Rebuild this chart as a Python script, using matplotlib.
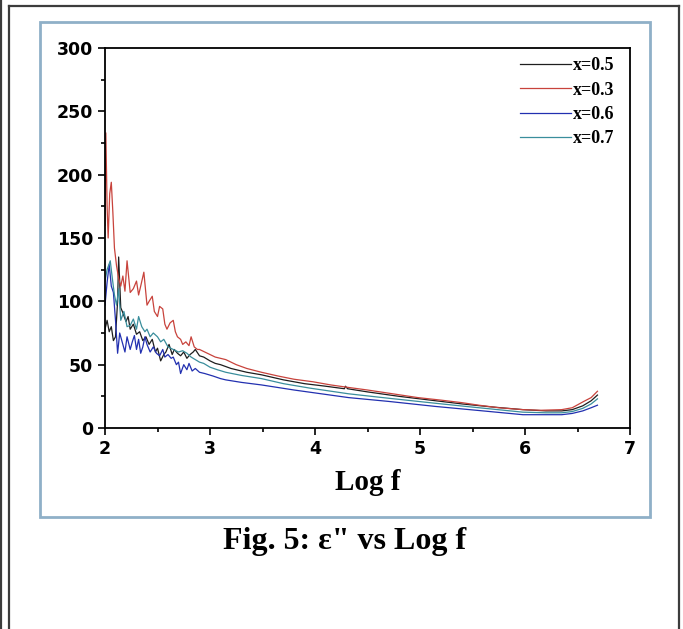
import matplotlib
matplotlib.use("Agg")
import matplotlib.pyplot as plt
from matplotlib.lines import Line2D
from matplotlib.patches import Rectangle
from matplotlib.ticker import MultipleLocator

# values (Log f vs epsilon'')
x_red = [2.00, 2.008, 2.02, 2.03, 2.045, 2.06, 2.075, 2.09, 2.11, 2.13, 2.15, 2.17, 2.19, 2.21,
         2.24, 2.27, 2.30, 2.32, 2.34, 2.37, 2.40, 2.42, 2.45, 2.47, 2.50, 2.52, 2.55, 2.57, 2.59,
         2.62, 2.65, 2.67, 2.69, 2.72, 2.74, 2.77, 2.80, 2.82, 2.85, 2.88, 2.90, 2.95, 3.00, 3.05,
         3.10, 3.15, 3.25, 3.35, 3.49, 3.65, 3.80, 3.98, 4.15, 4.32, 4.50, 4.70, 4.98, 5.20, 5.40,
         5.56, 5.75, 5.98, 6.15, 6.35, 6.45, 6.56, 6.63, 6.69]
y_red = [160, 233, 175, 150, 185, 194, 170, 142, 128, 118, 112, 120, 108, 132,
         107, 110, 116, 105, 112, 123, 97, 100, 104, 92, 88, 96, 94, 82, 78,
         83, 85, 76, 72, 70, 66, 68, 65, 72, 64, 62, 62, 60, 58, 56,
         55, 54, 50, 47, 44, 41, 38.5, 36.5, 34, 32, 30, 27.5, 24, 22, 20,
         18, 16, 14.5, 14, 14.5, 16, 21, 24, 29]

x_blk = [2.00, 2.02, 2.04, 2.06, 2.08, 2.10, 2.12, 2.13, 2.15, 2.17, 2.20, 2.22, 2.24, 2.27,
         2.30, 2.33, 2.36, 2.39, 2.42, 2.45, 2.48, 2.50, 2.53, 2.56, 2.58, 2.61, 2.64, 2.66,
         2.69, 2.72, 2.75, 2.78, 2.81, 2.84, 2.86, 2.90, 2.94, 3.00, 3.05, 3.10, 3.20, 3.35,
         3.49, 3.70, 3.90, 4.10, 4.28, 4.29, 4.31, 4.50, 4.80, 5.15, 5.40, 5.70, 5.98, 6.20,
         6.35, 6.45, 6.55, 6.63, 6.69]
y_blk = [78, 85, 76, 80, 69, 72, 100, 135, 95, 91, 84, 88, 78, 82,
         74, 76, 69, 72, 66, 70, 60, 63, 53, 58, 60, 66, 58, 62,
         59, 57, 60, 55, 58, 60, 62, 57, 56, 53, 51, 50, 47, 44,
         42, 38, 35, 33, 31, 33, 31, 28.5, 25, 21.5, 19, 16.5, 14.5, 13.5,
         13.5, 14.5, 17.5, 21.5, 26]

x_blue = [2.00, 2.02, 2.04, 2.06, 2.08, 2.10, 2.12, 2.14, 2.17, 2.19, 2.21, 2.24, 2.26, 2.28,
          2.30, 2.32, 2.34, 2.36, 2.38, 2.40, 2.43, 2.46, 2.49, 2.52, 2.55, 2.57, 2.60, 2.63,
          2.65, 2.68, 2.70, 2.72, 2.75, 2.78, 2.80, 2.83, 2.86, 2.90, 2.95, 3.03, 3.10, 3.15,
          3.30, 3.49, 3.80, 4.32, 4.70, 5.15, 5.60, 5.98, 6.35, 6.45, 6.55, 6.63, 6.69]
y_blue = [97, 115, 129, 112, 107, 85, 59, 75, 66, 60, 72, 62, 68, 73,
          62, 70, 59, 64, 72, 66, 60, 64, 59, 57, 62, 56, 58, 55,
          56, 50, 52, 43, 50, 46, 51, 45, 47, 44, 43, 41, 39, 38,
          36, 34, 30, 24, 21, 17, 13.5, 10.5, 10.5, 11.5, 13.5, 16, 18]

x_teal = [2.00, 2.02, 2.05, 2.07, 2.09, 2.11, 2.13, 2.15, 2.18, 2.21, 2.24, 2.27, 2.30, 2.32,
          2.35, 2.38, 2.40, 2.43, 2.46, 2.50, 2.53, 2.56, 2.60, 2.65, 2.70, 2.74, 2.78, 2.82,
          2.86, 2.90, 2.94, 3.00, 3.07, 3.15, 3.30, 3.49, 3.70, 3.95, 4.32, 4.70, 5.15, 5.50,
          5.98, 6.20, 6.35, 6.45, 6.55, 6.63, 6.69]
y_teal = [116, 125, 132, 118, 105, 97, 110, 85, 92, 80, 81, 86, 78, 88,
          80, 76, 78, 72, 75, 72, 68, 70, 64, 62, 60, 61, 59, 56,
          54, 52, 51, 48, 46, 44, 41.5, 39, 35, 31.5, 27, 23.5, 19.5, 16.5,
          12.5, 12, 12, 13, 15.5, 19, 23]

W, H = 683, 629
fig = plt.figure(figsize=(W / 100, H / 100), dpi=100)

# page frame lines and the light blue box round the plot
def fx(px):
    return px / W

def fy(py):
    return 1 - py / H

frame_col = "#3c3c3c"
fig.add_artist(Line2D([fx(1), fx(1)], [0, 1], color=frame_col, lw=1.6))
fig.add_artist(Line2D([fx(9), fx(9)], [0, fy(6)], color=frame_col, lw=1.6))
fig.add_artist(Line2D([fx(9), fx(679)], [fy(6), fy(6)], color=frame_col, lw=1.6))
fig.add_artist(Line2D([fx(679), fx(679)], [0, fy(6)], color=frame_col, lw=1.6))
fig.add_artist(Rectangle((fx(40), fy(517)), fx(650) - fx(40), fy(22) - fy(517),
                         fill=False, edgecolor="#8fb0c8", lw=2.0))

ax = fig.add_axes([fx(105), fy(428), fx(630) - fx(105), fy(48) - fy(428)])

lw = 0.9
ax.plot(x_blk, y_blk, color="#1e1e1e", lw=lw, label="x=0.5")
ax.plot(x_red, y_red, color="#c8433c", lw=lw, label="x=0.3")
ax.plot(x_blue, y_blue, color="#2230b0", lw=lw, label="x=0.6")
ax.plot(x_teal, y_teal, color="#3a8e9c", lw=lw, label="x=0.7")

ax.set_xlim(2, 7)
ax.set_ylim(0, 300)
ax.xaxis.set_major_locator(MultipleLocator(1))
ax.xaxis.set_minor_locator(MultipleLocator(0.5))
ax.yaxis.set_major_locator(MultipleLocator(50))
ax.yaxis.set_minor_locator(MultipleLocator(25))
ax.tick_params(which="both", direction="out", width=1.2, top=False, right=False)
ax.tick_params(which="major", length=5)
ax.tick_params(which="minor", length=3)
for lab in ax.get_xticklabels() + ax.get_yticklabels():
    lab.set_fontweight("bold")
    lab.set_fontsize(12.5)
    lab.set_family("DejaVu Sans")
for sp in ax.spines.values():
    sp.set_linewidth(1.3)

ax.set_xlabel("Log f", family="Liberation Serif", fontweight="bold", fontsize=21, labelpad=8)

leg = ax.legend(loc="upper right", bbox_to_anchor=(0.97, 0.975), frameon=False,
                borderpad=0, borderaxespad=0, handlelength=2.8, handletextpad=0.1,
                labelspacing=0.4, prop={"family": "Liberation Serif", "weight": "bold", "size": 13})

fig.text(fx(345), fy(541), 'Fig. 5: ε" vs Log f', family="Liberation Serif",
         fontweight="bold", fontsize=23, ha="center", va="center")

fig.savefig("out.png", dpi=100)
